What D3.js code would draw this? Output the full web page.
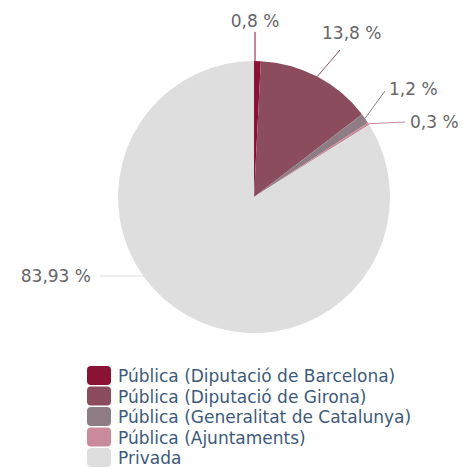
<!DOCTYPE html>
<html>
<head>
<meta charset="utf-8">
<script src="https://cdn.jsdelivr.net/npm/d3@7"></script>
<style>
  body { margin: 0; background: #ffffff; }
  #chart { width: 463px; height: 468px; }
</style>
</head>
<body>
<div id="chart"></div>
<script>
// Pie data (percent)
const categories = [
  'Pública (Diputació de Barcelona)',
  'Pública (Diputació de Girona)',
  'Pública (Generalitat de Catalunya)',
  'Pública (Ajuntaments)',
  'Privada'
];
const values = [0.8, 13.8, 1.2, 0.3, 83.93];
const valueLabels = ['0,8 %', '13,8 %', '1,2 %', '0,3 %', '83,93 %'];
const colors = ['#8a1235', '#8b4c5e', '#8e7d84', '#c98b9b', '#dedede'];

const W = 463, H = 468;
const cx = 254, cy = 197, R = 136;
const font = 'DejaVu Sans, Verdana, sans-serif';

const svg = d3.select('#chart').append('svg')
  .attr('width', W).attr('height', H)
  .attr('viewBox', `0 0 ${W} ${H}`);

const pie = d3.pie().sort(null).value(d => d);
const arcs = pie(values);
const arc = d3.arc().innerRadius(0).outerRadius(R);

const g = svg.append('g').attr('transform', `translate(${cx},${cy})`);

g.selectAll('path.slice')
  .data(arcs)
  .join('path')
  .attr('class', 'slice')
  .attr('d', arc)
  .attr('fill', (d, i) => colors[i]);

// label placement per slice (relative to centre): connector end, text baseline pos
const labelPos = [
  { end: [1, -165], text: [1, -170], anchor: 'middle' },
  { end: [86, -147], text: [68, -158], anchor: 'start' },
  { end: [131, -106], text: [135, -102], anchor: 'start' },
  { end: [151, -75], text: [156, -69], anchor: 'start' },
  { end: [-154, 79], text: [-163, 85], anchor: 'end' }
];

arcs.forEach((d, i) => {
  const mid = (d.startAngle + d.endAngle) / 2;
  const px = Math.sin(mid) * R, py = -Math.cos(mid) * R;
  const lp = labelPos[i];
  let pts;
  if (i === 0) {
    pts = [[lp.end[0], py], lp.end];
  } else if (i === 4) {
    // horizontal leader into the pie edge
    const ey = lp.end[1];
    pts = [lp.end, [-Math.sqrt(R * R - ey * ey), ey]];
  } else {
    pts = [[px, py], lp.end];
  }
  g.append('path')
    .attr('d', d3.line()(pts))
    .attr('fill', 'none')
    .attr('stroke', colors[i])
    .attr('stroke-width', 1);
  g.append('text')
    .attr('x', lp.text[0]).attr('y', lp.text[1])
    .attr('text-anchor', lp.anchor)
    .attr('fill', '#666666')
    .attr('font-size', 17)
    .attr('font-family', font)
    .text(valueLabels[i]);
});

// Legend
const legend = svg.append('g').attr('transform', 'translate(87,366)');
categories.forEach((c, i) => {
  const row = legend.append('g').attr('transform', `translate(0,${i * 20.5})`);
  row.append('rect')
    .attr('width', 24).attr('height', 19)
    .attr('rx', 4).attr('ry', 4)
    .attr('fill', colors[i]);
  row.append('text')
    .attr('x', 31).attr('y', 16)
    .attr('fill', '#3d5a7a')
    .attr('font-size', 17)
    .attr('font-family', font)
    .text(c);
});
</script>
</body>
</html>
